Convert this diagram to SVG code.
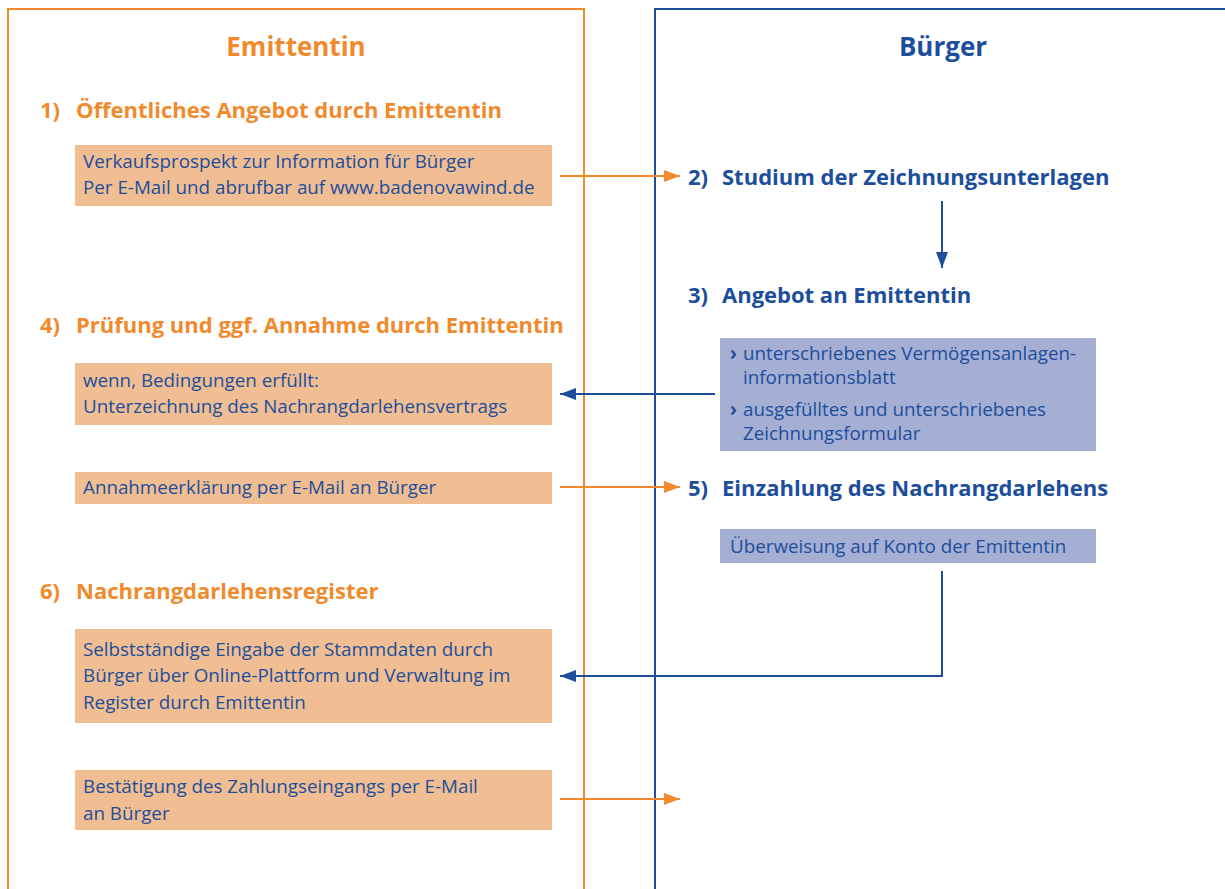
<svg xmlns="http://www.w3.org/2000/svg" width="1225" height="889" viewBox="0 0 1225 889">
<defs>
<style>
.bg{fill:#ffffff}
.frameO{fill:none;stroke:#F08A2C;stroke-width:2}
.frameB{fill:none;stroke:#1C4E9C;stroke-width:2}
.title{font-family:"Open Sans","Noto Sans",sans-serif;font-weight:700;font-size:26px;text-anchor:middle}
.h{font-family:"Open Sans","Noto Sans",sans-serif;font-weight:700;font-size:22px}
.o{fill:#F08A2C}
.b{fill:#1C4E9C}
.t{font-family:"Open Sans","Noto Sans",sans-serif;font-size:18.8px;fill:#1C4E9C}
.bul{font-family:"Open Sans","Noto Sans",sans-serif;font-size:18.8px;font-weight:700;fill:#1C4E9C}
.boxO{fill:#F0BE92}
.boxB{fill:#A5AED3}
.lnO{fill:none;stroke:#F08A2C;stroke-width:2}
.lnB{fill:none;stroke:#1C4E9C;stroke-width:2}
</style>
<marker id="aO2" markerWidth="16" markerHeight="12" refX="16" refY="6" orient="auto" markerUnits="userSpaceOnUse" viewBox="0 0 16 12"><path d="M0,0 L16,6 L0,12 z" fill="#F08A2C"/></marker>
<marker id="aB2" markerWidth="16" markerHeight="12" refX="16" refY="6" orient="auto" markerUnits="userSpaceOnUse" viewBox="0 0 16 12"><path d="M0,0 L16,6 L0,12 z" fill="#1C4E9C"/></marker>
</defs>
<rect class="bg" x="0" y="0" width="1225" height="889"/>

<g id="lane-emittentin">
<path class="frameO" d="M8,889 L8,9 L584,9 L584,889"/>
<text class="title o" x="296" y="56">Emittentin</text>
</g>
<g id="lane-buerger">
<path class="frameB" d="M655,889 L655,9 L1225,9"/>
<text class="title b" x="943" y="56">Bürger</text>
</g>

<g id="step1">
<text class="h o" x="40" y="118">1)</text>
<text class="h o" x="76" y="118">Öffentliches Angebot durch Emittentin</text>
</g>
<g id="box1">
<rect class="boxO" x="75" y="145" width="477" height="61"/>
<text class="t" x="83" y="168">Verkaufsprospekt zur Information für Bürger</text>
<text class="t" x="83" y="194">Per E-Mail und abrufbar auf www.badenovawind.de</text>
</g>

<g id="step2">
<text class="h b" x="688" y="185">2)</text>
<text class="h b" x="722" y="185">Studium der Zeichnungsunterlagen</text>
</g>

<g id="step3">
<text class="h b" x="688" y="303">3)</text>
<text class="h b" x="722" y="303">Angebot an Emittentin</text>
</g>
<g id="box3">
<rect class="boxB" x="720" y="338" width="376" height="113"/>
<text class="bul" x="730" y="360">›</text>
<text class="t" x="743" y="360">unterschriebenes Vermögensanlagen-</text>
<text class="t" x="743" y="384">informationsblatt</text>
<text class="bul" x="730" y="416">›</text>
<text class="t" x="743" y="416">ausgefülltes und unterschriebenes</text>
<text class="t" x="743" y="440">Zeichnungsformular</text>
</g>

<g id="step4">
<text class="h o" x="40" y="333">4)</text>
<text class="h o" x="76" y="333">Prüfung und ggf. Annahme durch Emittentin</text>
</g>
<g id="box4">
<rect class="boxO" x="75" y="363" width="477" height="62"/>
<text class="t" x="83" y="387">wenn, Bedingungen erfüllt:</text>
<text class="t" x="83" y="413">Unterzeichnung des Nachrangdarlehensvertrags</text>
</g>
<g id="box4b">
<rect class="boxO" x="75" y="472" width="477" height="32"/>
<text class="t" x="83" y="494">Annahmeerklärung per E-Mail an Bürger</text>
</g>

<g id="step5">
<text class="h b" x="688" y="496">5)</text>
<text class="h b" x="722" y="496">Einzahlung des Nachrangdarlehens</text>
</g>
<g id="box5">
<rect class="boxB" x="720" y="529" width="376" height="34"/>
<text class="t" x="730" y="553">Überweisung auf Konto der Emittentin</text>
</g>

<g id="step6">
<text class="h o" x="40" y="599">6)</text>
<text class="h o" x="76" y="599">Nachrangdarlehensregister</text>
</g>
<g id="box6">
<rect class="boxO" x="75" y="629" width="477" height="94"/>
<text class="t" x="83" y="656">Selbstständige Eingabe der Stammdaten durch</text>
<text class="t" x="83" y="682">Bürger über Online-Plattform und Verwaltung im</text>
<text class="t" x="83" y="709">Register durch Emittentin</text>
</g>
<g id="box6b">
<rect class="boxO" x="75" y="770" width="477" height="60"/>
<text class="t" x="83" y="793">Bestätigung des Zahlungseingangs per E-Mail</text>
<text class="t" x="83" y="820">an Bürger</text>
</g>

<g id="connectors">
<line class="lnO" x1="560" y1="176" x2="680" y2="176" marker-end="url(#aO2)"/>
<line class="lnB" x1="942" y1="201" x2="942" y2="268" marker-end="url(#aB2)"/>
<line class="lnB" x1="715" y1="394" x2="560" y2="394" marker-end="url(#aB2)"/>
<line class="lnO" x1="560" y1="487" x2="680" y2="487" marker-end="url(#aO2)"/>
<polyline class="lnB" points="942,571 942,676 560,676" marker-end="url(#aB2)"/>
<line class="lnO" x1="560" y1="799" x2="680" y2="799" marker-end="url(#aO2)"/>
</g>
</svg>
